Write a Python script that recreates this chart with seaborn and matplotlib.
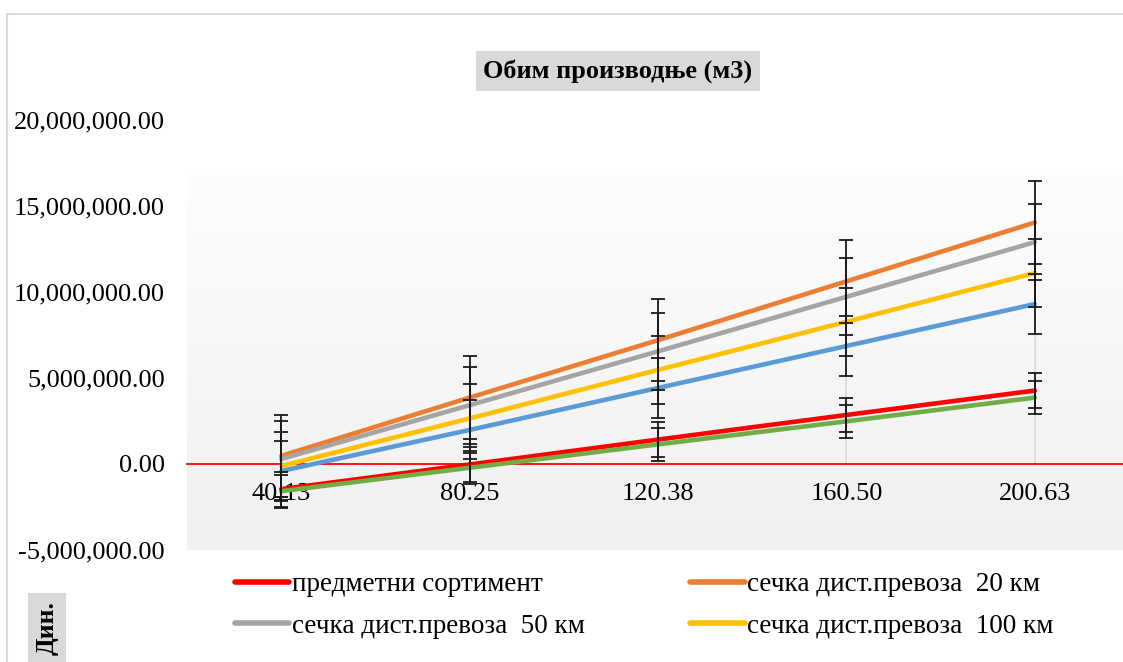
import numpy as np
import pandas as pd
import matplotlib
matplotlib.use('Agg')
import matplotlib.pyplot as plt
from matplotlib.lines import Line2D
from matplotlib.patches import Rectangle
from matplotlib.ticker import FuncFormatter
import seaborn as sns

# %%
# данные (очитано са графикона, вредности у милионима)
x_labels = ['40.13', '80.25', '120.38', '160.50', '200.63']
predmetni = [-1.46, -0.03, 1.42, 2.85, 4.27]
secka_20 = [0.47, 3.86, 7.20, 10.62, 14.04]
secka_50 = [0.29, 3.42, 6.55, 9.72, 12.90]
secka_100 = [-0.12, 2.65, 5.47, 8.27, 11.10]
serija_5 = [-0.41, 1.98, 4.42, 6.86, 9.30]
serija_6 = [-1.58, -0.22, 1.14, 2.48, 3.86]

series_names = ['предметни сортимент', 'сечка дист.превоза  20 км',
                'сечка дист.превоза  50 км', 'сечка дист.превоза  100 км',
                'серија 5', 'серија 6']
series_values = [predmetni, secka_20, secka_50, secka_100, serija_5, serija_6]
colors = ['#FF0000', '#ED7D31', '#A5A5A5', '#FFC000', '#5B9BD5', '#70AD47']

rows = []
for name, vals in zip(series_names, series_values):
    for i, v in enumerate(vals):
        rows.append({'pos': i, 'value': v * 1e6, 'series': name})
df = pd.DataFrame(rows)

# %%
sns.set_style('white')
plt.rcParams['font.family'] = ['Liberation Serif', 'DejaVu Serif']
plt.rcParams['text.color'] = 'black'
plt.rcParams['xtick.color'] = 'black'
plt.rcParams['ytick.color'] = 'black'

W, H = 1123, 662
fig = plt.figure(figsize=(W / 100, H / 100), dpi=100)
ax = fig.add_axes([187 / W, (H - 550) / H, (1129 - 187) / W, 430 / H])

xlim = (-0.5, 4.5)
ylim = (-5e6, 20e6)

# градијент позадине (горњи део бео)
n = 430
grad = np.ones(n)
start = 55
grad[start:] = np.linspace(253, 240, n - start) / 255
img = np.dstack([grad, grad, grad]).reshape(n, 1, 3)
ax.imshow(img, extent=[xlim[0], xlim[1], ylim[0], ylim[1]],
          aspect='auto', zorder=0, interpolation='nearest')

# drop lines
tops = df.groupby('pos')['value'].max()
ax.vlines(tops.index, 0, tops.values, color='#d9d9d9', lw=1.2, zorder=1)

sns.lineplot(data=df, x='pos', y='value', hue='series', hue_order=series_names,
             palette=dict(zip(series_names, colors)), linewidth=3.3,
             errorbar=None, legend=False, ax=ax, zorder=2)

# стандардна грешка (као у Excel-у)
for vals in series_values:
    v = np.array(vals) * 1e6
    se = v.std(ddof=1) / np.sqrt(len(v))
    ax.errorbar(range(len(v)), v, yerr=se, fmt='none', ecolor='#1a1a1a',
                elinewidth=1.3, capsize=5, capthick=1.3, zorder=3)

ax.set_xlim(*xlim)
ax.set_ylim(*ylim)
ax.set_xticks(range(len(x_labels)))
ax.set_xticklabels(x_labels)
ax.set_yticks(np.arange(-5e6, 20e6 + 1, 5e6))
ax.yaxis.set_major_formatter(FuncFormatter(lambda v, p: '{:,.2f}'.format(v)))
ax.tick_params(axis='x', length=0, pad=14, labelsize=19, labelcolor='black')
ax.tick_params(axis='y', length=0, pad=16, labelsize=19, labelcolor='black')
ax.set_xlabel('')
ax.set_ylabel('')

for s in ['top', 'right', 'left']:
    ax.spines[s].set_visible(False)
ax.spines['bottom'].set_position(('data', 0))
ax.spines['bottom'].set_color('red')
ax.spines['bottom'].set_linewidth(1.3)
ax.spines['bottom'].set_zorder(1.5)

# легенда
handles = [Line2D([0], [0], color=colors[i], lw=4) for i in [0, 2, 1, 3]]
labels = [series_names[i] for i in [0, 2, 1, 3]]
fig.legend(handles, labels, ncol=2, frameon=False, fontsize=19.5,
           loc='upper left', bbox_to_anchor=(235 / W, 1 - 572 / H),
           handlelength=2.0, handletextpad=0.1, columnspacing=3.9,
           labelspacing=0.62, borderpad=0, borderaxespad=0,
           labelcolor='black')

# наслови
fig.text(618 / W, 1 - 71 / H, 'Обим производње (м3)', ha='center', va='center',
         fontsize=19, fontweight='bold', color='black',
         bbox=dict(facecolor='#d9d9d9', edgecolor='none', boxstyle='square,pad=0.3'))
fig.text(47 / W, 1 - 628 / H, 'Дин.', ha='center', va='center', rotation=90,
         fontsize=18.5, fontweight='bold', color='black',
         bbox=dict(facecolor='#d9d9d9', edgecolor='none', boxstyle='square,pad=0.3'))

# оквир графикона
fig.add_artist(Rectangle((7 / W, -0.1), 1.2, (1 - 14 / H) + 0.1,
                         transform=fig.transFigure, fill=False,
                         edgecolor='#d9d9d9', lw=1.5))

plt.savefig('out.png', dpi=100)
